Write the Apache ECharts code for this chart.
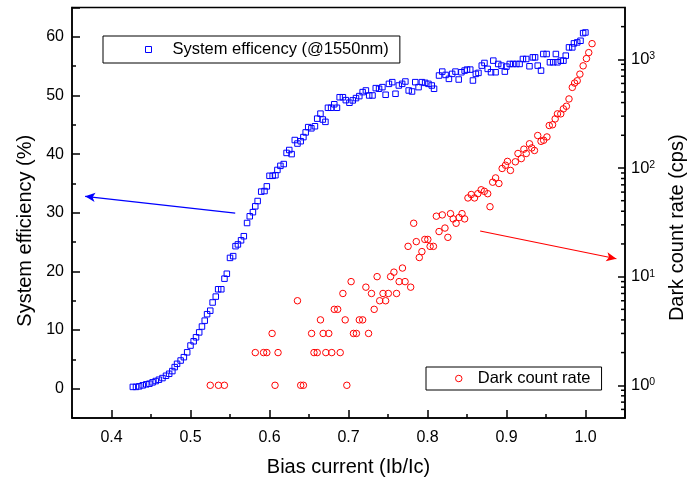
<!DOCTYPE html>
<html>
<head>
<meta charset="utf-8">
<script src="https://cdn.jsdelivr.net/npm/echarts@6/dist/echarts.min.js"></script>
<style>
  html, body { margin: 0; padding: 0; background: #fff; }
  #chart { width: 695px; height: 482px; }
</style>
</head>
<body>
<div id="chart"></div>
<script>
// system efficiency (%) vs bias current
const effBias = [
  0.427, 0.431, 0.435, 0.4395, 0.444, 0.448, 0.452, 0.456, 0.460, 0.4645,
  0.469, 0.473, 0.477, 0.480, 0.483, 0.4875, 0.4916, 0.4958, 0.500, 0.504,
  0.507, 0.511, 0.5145, 0.518, 0.521, 0.525, 0.528, 0.532, 0.535, 0.539,
  0.543, 0.546, 0.550, 0.554, 0.557, 0.560, 0.564, 0.5675, 0.5716, 0.575,
  0.579, 0.582, 0.585, 0.5895, 0.5937, 0.5966, 0.600, 0.604, 0.6075, 0.610,
  0.6138, 0.618, 0.6216, 0.625, 0.628, 0.632, 0.6354, 0.6395, 0.6429, 0.6458,
  0.649, 0.653, 0.6575, 0.6604, 0.6645, 0.6675, 0.6708, 0.674, 0.678, 0.682,
  0.6854, 0.6888, 0.6929, 0.6966, 0.7012, 0.7054, 0.7095, 0.7137, 0.7179, 0.7220,
  0.7262, 0.7304, 0.7345, 0.7387, 0.7429, 0.7470, 0.7512, 0.7554, 0.7595, 0.7637,
  0.7679, 0.7720, 0.7762, 0.7804, 0.7845, 0.7887, 0.7929, 0.7970, 0.8012, 0.8054,
  0.8083, 0.8146, 0.8187, 0.8229, 0.8271, 0.8312, 0.8354, 0.8395, 0.8429, 0.8470,
  0.8500, 0.8541, 0.8575, 0.8612, 0.8645, 0.8687, 0.8721, 0.8762, 0.8804, 0.8833,
  0.8862, 0.8895, 0.8937, 0.8979, 0.8999, 0.9041, 0.9083, 0.9125, 0.9166, 0.9208,
  0.9250, 0.9291, 0.9333, 0.9362, 0.9395, 0.9437, 0.9466, 0.9508, 0.9550, 0.9591,
  0.9625, 0.9645, 0.9687, 0.9721, 0.9750, 0.9791, 0.9833, 0.9854, 0.9895, 0.9937,
  0.9970, 0.9999
];
const effValues = [
  0.3, 0.3, 0.4, 0.57, 0.74, 0.85, 1.08, 1.3, 1.53, 1.81,
  2.2, 2.54, 3.0, 3.68, 4.24, 4.8, 5.37, 6.2, 7.35, 8.08,
  8.76, 9.6, 10.6, 11.6, 12.7, 13.3, 14.7, 15.7, 16.95, 16.95,
  18.76, 19.6, 22.3, 22.6, 24.3, 24.6, 25.3, 26.0, 28.25, 29.4,
  30.1, 31.1, 32.0, 33.6, 33.7, 34.5, 36.3, 36.3, 36.4, 37.3,
  38.0, 38.3, 40.2, 40.7, 40.0, 42.4, 41.8, 42.2, 42.9, 43.7,
  44.6, 44.4, 44.75, 46.05, 46.9, 45.9, 45.5, 47.9, 47.9, 48.5,
  47.9, 49.7, 49.7, 49.2, 48.76, 49.16, 49.55, 49.89, 50.57, 50.85,
  50.0, 50.0, 51.25, 51.14, 51.42, 50.12, 51.98, 52.27, 50.29, 51.7,
  51.98, 52.38, 50.85, 50.68, 52.27, 51.42, 52.27, 52.15, 51.98, 51.7,
  51.14, 53.4, 54.07, 53.5, 52.83, 53.68, 54.07, 52.72, 53.96, 54.24,
  54.41, 54.41, 52.55, 53.68, 53.85, 55.09, 55.54, 54.53, 53.96, 55.94,
  53.96, 55.37, 55.09, 54.07, 54.92, 55.37, 55.37, 55.37, 55.37, 56.22,
  56.22, 54.98, 56.5, 56.5, 55.09, 54.24, 57.07, 57.07, 55.66, 55.66,
  57.07, 55.66, 55.94, 55.94, 56.79, 58.2, 58.2, 58.88, 59.05, 59.33,
  60.63, 60.74
];

// dark count rate (cps) vs bias current
const dcrBias = [
  0.525, 0.5354, 0.5429, 0.582, 0.5925, 0.5966, 0.6033, 0.607, 0.6108, 0.6354,
  0.6395, 0.6429, 0.6533, 0.6563, 0.6604, 0.6645, 0.6679, 0.6713, 0.675, 0.6788,
  0.682, 0.6863, 0.6895, 0.6929, 0.6958, 0.6979, 0.7033, 0.7063, 0.7100, 0.7137,
  0.7179, 0.7220, 0.7254, 0.7291, 0.7325, 0.7362, 0.7395, 0.7437, 0.7470, 0.7504,
  0.7533, 0.7575, 0.7608, 0.7641, 0.7683, 0.7716, 0.7754, 0.7787, 0.7825, 0.7858,
  0.7896, 0.7929, 0.7966, 0.8004, 0.8033, 0.8075, 0.8112, 0.8146, 0.8187, 0.8221,
  0.8258, 0.8291, 0.8325, 0.8362, 0.8400, 0.8437, 0.8470, 0.8512, 0.8554, 0.8595,
  0.8637, 0.8679, 0.8720, 0.8762, 0.8791, 0.8825, 0.8862, 0.8904, 0.8945, 0.8987,
  0.9012, 0.9050, 0.9112, 0.9145, 0.9187, 0.9220, 0.9250, 0.9291, 0.9320, 0.9354,
  0.9395, 0.9437, 0.9470, 0.9512, 0.9541, 0.9583, 0.9616, 0.9645, 0.9687, 0.9720,
  0.9758, 0.9791, 0.9833, 0.9862, 0.9895, 0.9929, 0.9970, 1.0012, 1.0041, 1.0083
];
const dcrValues = [
  1, 1, 1, 2, 2, 2, 3, 1, 2, 6,
  1, 1, 3, 2, 2, 4, 3, 2, 3, 2,
  5, 5, 2, 7, 4, 1, 9, 3, 3, 4,
  4, 8, 3, 7, 5, 10, 6, 7, 6, 7,
  10, 11, 7, 9, 12, 9, 19, 8, 31, 21,
  15, 17, 22, 22, 19, 19, 36, 26, 37, 28,
  23, 38, 34, 31, 35, 38, 34, 53, 57, 53,
  58, 63, 61, 58, 44, 74, 81, 72, 99, 106,
  115, 95, 114, 136, 122, 149, 136, 167, 153, 145,
  199, 176, 180, 193, 246, 250, 283, 315, 315, 350,
  370, 432, 552, 605, 635, 731, 871, 1016, 1153, 1394
];

// axis ranges and the 2..9 minor ticks of the log axis
const xRange = [0.35, 1.05];
const effRange = [-5, 65];
const dcrRange = [0.5, 3000];
const logMinorTicks = [
  0.6, 0.7, 0.8, 0.9,
  2, 3, 4, 5, 6, 7, 8, 9,
  20, 30, 40, 50, 60, 70, 80, 90,
  200, 300, 400, 500, 600, 700, 800, 900,
  2000
];

const FONT = "'Liberation Sans', Arial, sans-serif";
const effName = "System efficency (@1550nm)";
const dcrName = "Dark count rate";

function init(myChart) {
  const option = {
    animation: false,
    textStyle: { fontFamily: FONT, color: "#000" },
    grid: {
      left: 72,
      right: 61.5,
      top: 7.5,
      bottom: 60.5,
      show: true,
      borderColor: "#000",
      borderWidth: 1.5,
      backgroundColor: "transparent"
    },
    legend: [
      {
        data: [{
          name: effName,
          icon: "rect",
          itemStyle: { color: "rgba(0,0,0,0)", borderColor: "#0000ff", borderWidth: 1 }
        }],
        left: 103,
        top: 36,
        padding: [5, 11, 5, 42],
        itemWidth: 6,
        itemHeight: 6,
        borderColor: "#000",
        borderWidth: 1,
        selectedMode: false,
        textStyle: {
          fontSize: 16.5, lineHeight: 16, color: "#000", fontFamily: FONT,
          padding: [0, 0, 0, 16]
        }
      },
      {
        data: [{
          name: dcrName,
          icon: "circle",
          itemStyle: { color: "rgba(0,0,0,0)", borderColor: "#ff0000", borderWidth: 1 }
        }],
        left: 426,
        top: 367,
        padding: [3, 11, 3, 29],
        itemWidth: 28,
        itemHeight: 6.5,
        borderColor: "#000",
        borderWidth: 1,
        selectedMode: false,
        textStyle: { fontSize: 16.5, lineHeight: 16, color: "#000", fontFamily: FONT }
      }
    ],
    xAxis: {
      type: "value",
      min: xRange[0],
      max: xRange[1],
      splitNumber: 7,
      name: "Bias current (Ib/Ic)",
      nameLocation: "middle",
      nameGap: 39,
      nameTextStyle: { fontSize: 20, fontFamily: FONT, color: "#000" },
      axisLine: { onZero: false, lineStyle: { color: "#000", width: 1.5 } },
      axisTick: { inside: true, length: 8, lineStyle: { color: "#000", width: 1.5 } },
      minorTick: { show: true, splitNumber: 2, length: 4, lineStyle: { color: "#000", width: 1.5 } },
      splitLine: { show: false },
      axisLabel: {
        fontSize: 16,
        margin: 12,
        color: "#000",
        fontFamily: FONT,
        showMinLabel: false,
        showMaxLabel: false,
        formatter: v => v.toFixed(1)
      }
    },
    yAxis: [
      {
        type: "value",
        min: effRange[0],
        max: effRange[1],
        splitNumber: 7,
        name: "System efficiency (%)",
        nameLocation: "middle",
        nameGap: 36,
        nameTextStyle: { fontSize: 20, fontFamily: FONT, color: "#000", padding: [0, 36, 0, 0] },
        axisLine: { onZero: false, lineStyle: { color: "#000", width: 1.5 } },
        axisTick: { inside: true, length: 8, lineStyle: { color: "#000", width: 1.5 } },
        minorTick: { show: true, splitNumber: 2, length: 4, lineStyle: { color: "#000", width: 1.5 } },
        splitLine: { show: false },
        axisLabel: {
          fontSize: 16,
          margin: 8,
          color: "#000",
          fontFamily: FONT,
          showMinLabel: false,
          showMaxLabel: false
        }
      },
      {
        type: "log",
        logBase: 10,
        min: dcrRange[0],
        max: dcrRange[1],
        position: "right",
        name: "Dark count rate (cps)",
        nameLocation: "middle",
        nameGap: 42,
        nameTextStyle: { fontSize: 20, fontFamily: FONT, color: "#000", padding: [0, 30, 0, 0] },
        axisLine: { lineStyle: { color: "#000", width: 1.5 } },
        axisTick: { inside: true, length: 7, lineStyle: { color: "#000", width: 1.5 } },
        minorTick: { show: false },
        splitLine: { show: false },
        axisLabel: {
          margin: 6,
          showMinLabel: false,
          showMaxLabel: false,
          formatter: v => "{b|10}{e|" + Math.round(Math.log10(v)) + "}",
          rich: {
            b: { fontSize: 16.5, fontFamily: FONT, color: "#000" },
            e: { fontSize: 10.5, fontFamily: FONT, color: "#000", verticalAlign: "top" }
          }
        }
      }
    ],
    series: [
      {
        name: effName,
        type: "scatter",
        xAxisIndex: 0,
        yAxisIndex: 0,
        symbol: "rect",
        symbolSize: 5.5,
        itemStyle: { color: "rgba(0,0,0,0)", borderColor: "#0000ff", borderWidth: 1, opacity: 1 },
        data: effBias.map((x, i) => [x, effValues[i]]),
        markLine: {
          silent: true,
          symbol: ["none", "arrow"],
          symbolSize: [7, 10],
          label: { show: false },
          lineStyle: { color: "#0000ff", width: 1.2, type: "solid" },
          data: [[{ coord: [0.5566, 29.95] }, { coord: [0.3666, 32.8] }]]
        }
      },
      {
        name: dcrName,
        type: "scatter",
        xAxisIndex: 0,
        yAxisIndex: 1,
        symbol: "circle",
        symbolSize: 6.5,
        itemStyle: { color: "rgba(0,0,0,0)", borderColor: "#ff0000", borderWidth: 1, opacity: 1 },
        data: dcrBias.map((x, i) => [x, dcrValues[i]]),
        markLine: {
          silent: true,
          symbol: ["none", "arrow"],
          symbolSize: [7, 10],
          label: { show: false },
          lineStyle: { color: "#ff0000", width: 1.2, type: "solid" },
          data: [[{ coord: [0.8666, 26.3] }, { coord: [1.0391, 14.6] }]]
        }
      },
      {
        // minor ticks of the log axis, 2..9 per decade
        type: "custom",
        xAxisIndex: 0,
        yAxisIndex: 1,
        silent: true,
        clip: false,
        data: logMinorTicks.map(v => [xRange[1], v]),
        renderItem: function(params, api) {
          const p = api.coord([api.value(0), api.value(1)]);
          return {
            type: "line",
            shape: { x1: p[0], y1: p[1], x2: p[0] - 4, y2: p[1] },
            style: { stroke: "#000", lineWidth: 1.5 }
          };
        }
      }
    ]
  };

  myChart.setOption(option);
}

const myChart = echarts.init(document.getElementById("chart"), null, { renderer: "canvas" });
init(myChart);
</script>
</body>
</html>
